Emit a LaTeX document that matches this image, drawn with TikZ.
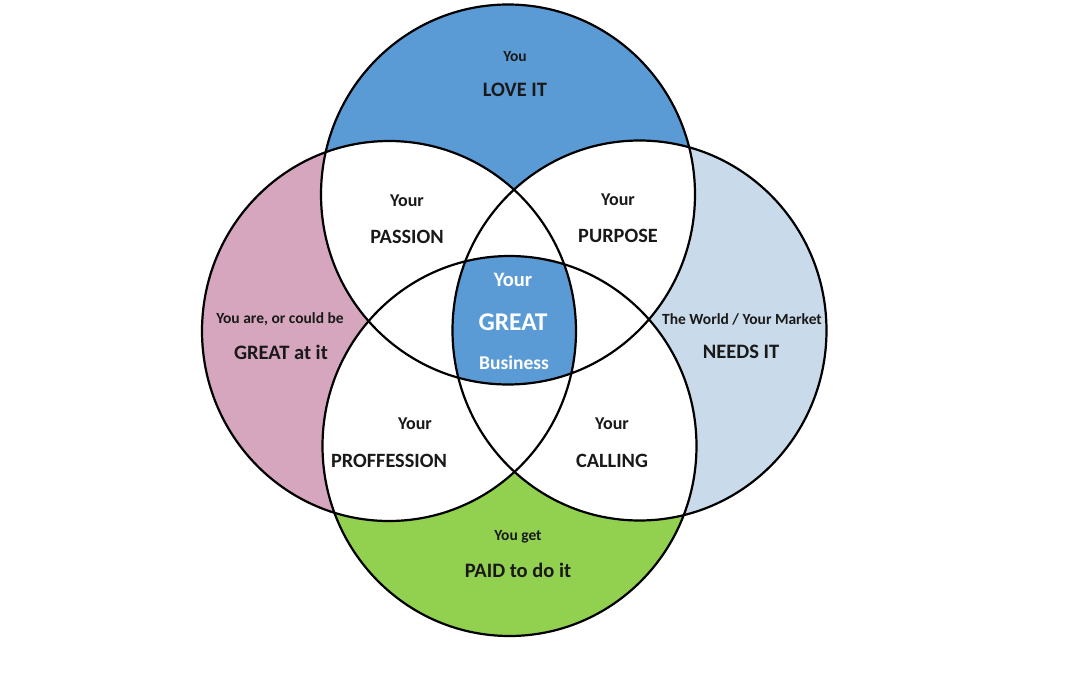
\documentclass[tikz,border=0pt]{standalone}
\usepackage{fontspec}
\setmainfont{Carlito}
\begin{document}
\begin{tikzpicture}[x=1pt,y=-1pt,
  small/.style={font=\bfseries\fontsize{15.5}{17}\selectfont, text=black!90, inner sep=0pt},
  big/.style={font=\bfseries\fontsize{20.5}{23}\selectfont, text=black!90, inner sep=0pt},
  mid/.style={font=\bfseries\fontsize{18}{20}\selectfont, text=black!90, inner sep=0pt},
  midb/.style={font=\bfseries\fontsize{20.3}{23}\selectfont, text=black!90, inner sep=0pt},
  ring/.style={line width=2.2pt, draw=black}]
\definecolor{topblue}{HTML}{5B9BD5}
\definecolor{leftpink}{HTML}{D5A6BD}
\definecolor{rightblue}{HTML}{C9DAEA}
\definecolor{botgreen}{HTML}{92D050}
\fill[white] (0,0) rectangle (1080,675);
\useasboundingbox (0,0) rectangle (1080,675);
% coloured circles
\fill[topblue] (508,194.5) ellipse [x radius=187pt, y radius=190pt];
\fill[leftpink] (389,331) ellipse [x radius=187pt, y radius=190pt];
\fill[rightblue] (639.5,330.5) ellipse [x radius=187pt, y radius=190pt];
\fill[botgreen] (509.5,446) ellipse [x radius=187pt, y radius=190pt];
% pairwise overlaps white
\begin{scope}
  \clip (508,194.5) ellipse [x radius=187pt, y radius=190pt];
  \fill[white] (389,331) ellipse [x radius=187pt, y radius=190pt];
  \fill[white] (639.5,330.5) ellipse [x radius=187pt, y radius=190pt];
  \fill[white] (509.5,446) ellipse [x radius=187pt, y radius=190pt];
\end{scope}
\begin{scope}
  \clip (509.5,446) ellipse [x radius=187pt, y radius=190pt];
  \fill[white] (389,331) ellipse [x radius=187pt, y radius=190pt];
  \fill[white] (639.5,330.5) ellipse [x radius=187pt, y radius=190pt];
\end{scope}
\begin{scope}
  \clip (389,331) ellipse [x radius=187pt, y radius=190pt];
  \fill[white] (639.5,330.5) ellipse [x radius=187pt, y radius=190pt];
\end{scope}
% centre: all four
\begin{scope}
  \clip (508,194.5) ellipse [x radius=187pt, y radius=190pt];
  \clip (509.5,446) ellipse [x radius=187pt, y radius=190pt];
  \clip (389,331) ellipse [x radius=187pt, y radius=190pt];
  \fill[topblue] (639.5,330.5) ellipse [x radius=187pt, y radius=190pt];
\end{scope}
% outlines
\draw[ring] (508,194.5) ellipse [x radius=187pt, y radius=190pt];
\draw[ring] (389,331) ellipse [x radius=187pt, y radius=190pt];
\draw[ring] (639.5,330.5) ellipse [x radius=187pt, y radius=190pt];
\draw[ring] (509.5,446) ellipse [x radius=187pt, y radius=190pt];
% texts
\node[small] (you1) at (515,57) {You};
\node[big] (love) at (515,90) {LOVE IT};
\node[mid] (yp1) at (407,201) {Your};
\node[midb] (passion) at (407,237) {PASSION};
\node[mid] (yp2) at (618,200) {Your};
\node[midb] (purpose) at (618,236) {PURPOSE};
\node[small] (could) at (280,319) {You are, or could be};
\node[big] (great) at (281,352) {GREAT at it};
\node[small] (world) at (742,319) {The World / Your Market};
\node[big] (needs) at (741,352) {NEEDS IT};
\node[font=\bfseries\fontsize{20.5}{23}\selectfont, text=white, inner sep=0pt] (cy) at (513,280) {Your};
\node[font=\bfseries\fontsize{25.5}{28}\selectfont, text=white, inner sep=0pt] (cg) at (513,322) {GREAT};
\node[font=\bfseries\fontsize{19.5}{22}\selectfont, text=white, inner sep=0pt] (cb) at (514,363) {Business};
\node[mid] (yp3) at (415,424) {Your};
\node[midb] (prof) at (389,461) {PROFFESSION};
\node[mid] (yp4) at (612,424) {Your};
\node[midb] (calling) at (612,461) {CALLING};
\node[small] (get) at (518,537) {You get};
\node[big] (paid) at (518,570) {PAID to do it};
\end{tikzpicture}
\end{document}
